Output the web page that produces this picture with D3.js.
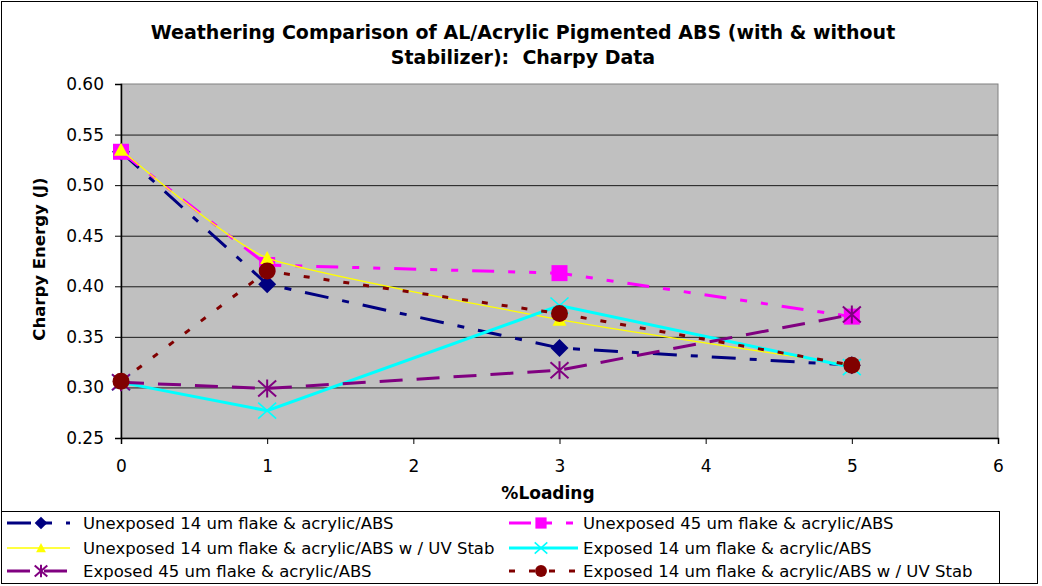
<!doctype html>
<html>
	<head>
		<script src="https://d3js.org/d3.v7.min.js"></script>
		<style>
			body { margin: 0; background: #fff; }
			text { font-family: "DejaVu Sans", "Liberation Sans", Arial, sans-serif; fill: #000; white-space: pre; }
		</style>
	</head>
	<body>
		<div id="chart"></div>
		<script>
            // values
            const loading = [0, 1, 3, 5];
            const unexposed14 = [0.533, 0.402, 0.339, 0.322];
            const unexposed45 = [0.533, 0.421, 0.413, 0.370];
            const unexposed14uv = [0.535, 0.428, 0.367, 0.322];
            const exposed14 = [0.305, 0.277, 0.381, 0.320];
            const exposed45 = [0.305, 0.299, 0.317, 0.372];
            const exposed14uv = [0.306, 0.415, 0.373, 0.322];

            const seriesNames = [
                "Unexposed 14 um flake & acrylic/ABS",
                "Unexposed 45 um flake & acrylic/ABS",
                "Unexposed 14 um flake & acrylic/ABS w / UV Stab",
                "Exposed 14 um flake & acrylic/ABS",
                "Exposed 45 um flake & acrylic/ABS",
                "Exposed 14 um flake & acrylic/ABS w / UV Stab"
            ];
            const seriesValues = [unexposed14, unexposed45, unexposed14uv, exposed14, exposed45, exposed14uv];
            const xTicks = [0, 1, 2, 3, 4, 5, 6];
            const yTicks = [0.25, 0.30, 0.35, 0.40, 0.45, 0.50, 0.55, 0.60];

            const styles = [
                {color: "#000080", width: 3, dash: "24,14,7,14", marker: "diamond", smooth: false},
                {color: "#FF00FF", width: 3, dash: "22,14,7,14,7,14", marker: "square", smooth: false},
                {color: "#FFFF00", width: 1.3, dash: null, marker: "triangle", smooth: true},
                {color: "#00FFFF", width: 3, dash: null, marker: "x", smooth: false},
                {color: "#800080", width: 3, dash: "23,14", marker: "star", smooth: false},
                {color: "#800000", width: 3, dash: "6,14", marker: "circle", smooth: false}
            ];

            const width = 1042, height = 586;
            const plot = {left: 121, right: 998, top: 84, bottom: 438};

            const svg = d3.select("#chart")
                .append("svg")
                .attr("width", width)
                .attr("height", height);

            // outer chart border
            svg.append("rect")
                .attr("x", 1.5).attr("y", 1.5)
                .attr("width", 1036).attr("height", 582)
                .attr("fill", "#fff")
                .attr("stroke", "#000");

            const x = d3.scaleLinear().domain([0, 6]).range([plot.left, plot.right]);
            const y = d3.scaleLinear().domain([0.25, 0.60]).range([plot.bottom, plot.top]);

            svg.append("rect")
                .attr("x", plot.left).attr("y", plot.top)
                .attr("width", plot.right - plot.left)
                .attr("height", plot.bottom - plot.top)
                .attr("fill", "#C0C0C0")
                .attr("stroke", "#808080");

            // gridlines
            svg.append("g")
                .attr("transform", "translate(" + plot.left + ",0)")
                .call(d3.axisLeft(y).tickValues(yTicks.slice(1, -1)).tickSize(-(plot.right - plot.left)).tickFormat(""))
                .call(function (g) { g.select(".domain").remove(); })
                .selectAll("line").attr("stroke", "#1a1a1a").attr("stroke-width", 1);

            // title
            const title = svg.append("text")
                .attr("text-anchor", "middle")
                .attr("font-weight", "bold")
                .attr("font-size", 19);
            title.append("tspan").attr("x", 523).attr("y", 39).text("Weathering Comparison of AL/Acrylic Pigmented ABS (with & without");
            title.append("tspan").attr("x", 523).attr("y", 64).text("Stabilizer):  Charpy Data");

            // axes
            const yAxis = svg.append("g")
                .attr("transform", "translate(" + plot.left + ",0)")
                .call(d3.axisLeft(y).tickValues(yTicks).tickSize(6).tickPadding(11).tickFormat(d3.format(".2f")));
            const xAxis = svg.append("g")
                .attr("transform", "translate(0," + plot.bottom + ")")
                .call(d3.axisBottom(x).tickValues(xTicks).tickSize(6).tickPadding(16).tickFormat(d3.format("d")));
            [yAxis, xAxis].forEach(function (g) {
                g.attr("font-family", null).attr("font-size", 17);
                g.select(".domain").attr("stroke", "#000").attr("stroke-width", 1.5);
                g.selectAll(".tick line").attr("stroke", "#000");
            });

            svg.append("text")
                .attr("x", 548).attr("y", 499)
                .attr("text-anchor", "middle")
                .attr("font-weight", "bold")
                .attr("font-size", 17)
                .text("%Loading");

            svg.append("text")
                .attr("transform", "translate(45,259) rotate(-90)")
                .attr("text-anchor", "middle")
                .attr("font-weight", "bold")
                .attr("font-size", 16.5)
                .text("Charpy Energy (J)");

            function drawMarker(g, type, color, s) {
                if (type === "diamond") {
                    g.append("path").attr("d", "M0," + (-9 * s) + "L" + (9 * s) + ",0L0," + (9 * s) + "L" + (-9 * s) + ",0Z").attr("fill", color);
                } else if (type === "square") {
                    g.append("rect").attr("x", -8 * s).attr("y", -8 * s).attr("width", 16 * s).attr("height", 16 * s).attr("fill", color);
                } else if (type === "triangle") {
                    g.append("path").attr("d", "M0," + (-7 * s) + "L" + (7 * s) + "," + (6 * s) + "L" + (-7 * s) + "," + (6 * s) + "Z").attr("fill", color);
                } else if (type === "x") {
                    g.append("path").attr("d", "M" + (-9 * s) + "," + (-8 * s) + "L" + (9 * s) + "," + (8 * s) + "M" + (9 * s) + "," + (-8 * s) + "L" + (-9 * s) + "," + (8 * s))
                        .attr("stroke", color).attr("stroke-width", 1.6).attr("fill", "none");
                } else if (type === "star") {
                    g.append("path").attr("d", "M" + (-9 * s) + "," + (-8 * s) + "L" + (9 * s) + "," + (8 * s) + "M" + (9 * s) + "," + (-8 * s) + "L" + (-9 * s) + "," + (8 * s) + "M0," + (-9 * s) + "L0," + (9 * s))
                        .attr("stroke", color).attr("stroke-width", 2).attr("fill", "none");
                } else if (type === "circle") {
                    g.append("circle").attr("r", 8.5 * s).attr("fill", color);
                }
            }

            const line = d3.line()
                .x(function (d) { return x(d[0]); })
                .y(function (d) { return y(d[1]); });

            seriesValues.forEach(function (values, i) {
                const st = styles[i];
                const pts = loading.map(function (l, j) { return [l, values[j]]; });
                const g = svg.append("g").attr("class", "series");
                g.append("path")
                    .datum(pts)
                    .attr("d", line.curve(st.smooth ? d3.curveCardinal.tension(0.5) : d3.curveLinear))
                    .attr("fill", "none")
                    .attr("stroke", st.color)
                    .attr("stroke-width", st.width)
                    .attr("stroke-dasharray", st.dash);
                pts.forEach(function (p) {
                    const m = g.append("g").attr("transform", "translate(" + x(p[0]) + "," + y(p[1]) + ")");
                    drawMarker(m, st.marker, st.color, 1);
                });
            });

            // legend
            const legend = svg.append("g");
            legend.append("rect")
                .attr("x", 1.5).attr("y", 511.5)
                .attr("width", 998).attr("height", 72)
                .attr("fill", "#fff")
                .attr("stroke", "#000");
            const colX = [[7, 70, 41, 83], [509, 578, 541, 583]];
            const rowY = [523, 548, 571];
            seriesNames.forEach(function (name, i) {
                const c = colX[i % 2], ry = rowY[Math.floor(i / 2)], st = styles[i];
                legend.append("line")
                    .attr("x1", c[0]).attr("x2", c[1])
                    .attr("y1", ry).attr("y2", ry)
                    .attr("stroke", st.color)
                    .attr("stroke-width", st.width)
                    .attr("stroke-dasharray", st.dash);
                const m = legend.append("g").attr("transform", "translate(" + c[2] + "," + ry + ")");
                drawMarker(m, st.marker, st.color, 0.7);
                legend.append("text")
                    .attr("x", c[3]).attr("y", ry)
                    .attr("dy", "0.36em")
                    .attr("font-size", 16.5)
                    .text(name);
            });
		</script>
	</body>
</html>
